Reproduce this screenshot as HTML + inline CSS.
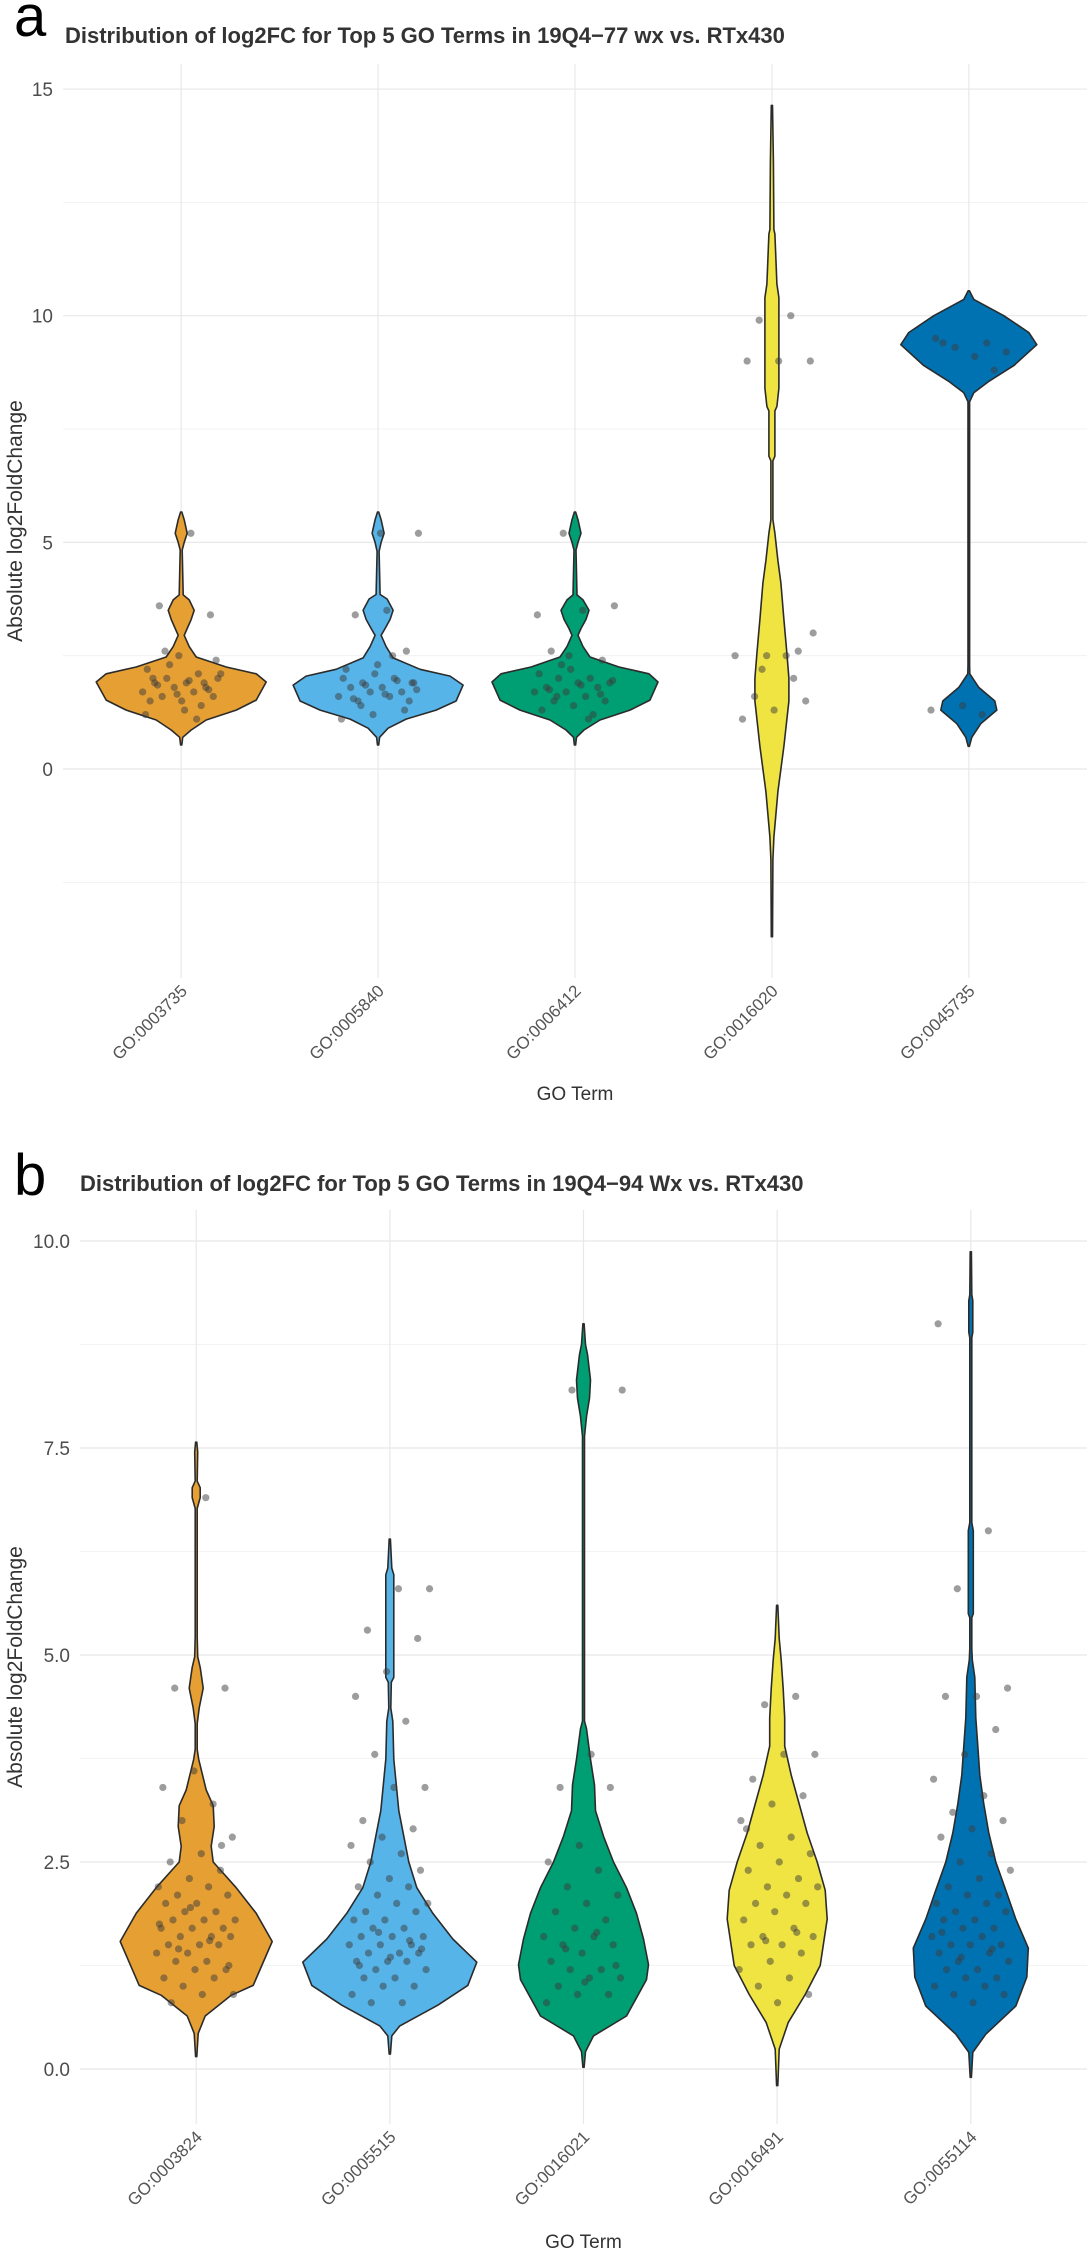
<!DOCTYPE html>
<html><head><meta charset="utf-8"><style>
html,body{margin:0;padding:0;background:#fff;}
svg{display:block;font-family:"Liberation Sans",Arial,sans-serif;}
</style></head><body>
<svg id="chart" width="1090" height="2253" viewBox="0 0 1090 2253" xmlns="http://www.w3.org/2000/svg">
<rect width="1090" height="2253" fill="#fff"/>
<text x="14" y="36" font-size="58" fill="#000">a</text>
<text x="65" y="43" font-size="22" font-weight="bold" fill="#333">Distribution of log2FC for Top 5 GO Terms in 19Q4−77 wx vs. RTx430</text>
<text x="14" y="1195" font-size="58" fill="#000">b</text>
<text x="80" y="1191" font-size="22" font-weight="bold" fill="#333">Distribution of log2FC for Top 5 GO Terms in 19Q4−94 Wx vs. RTx430</text>
<g id="pa"></g>
<g id="pb"></g>
</svg>
<script>
// ---------- Panel A data ----------
const aCategories = ["GO:0003735","GO:0005840","GO:0006412","GO:0016020","GO:0045735"];
const aTickValues = [0,5,10,15];
const aTickLabels = ["0","5","10","15"];
const aMinorTicks = [-2.5,2.5,7.5,12.5];
const aV1y = [0.53,0.7,0.86,1.08,1.3,1.52,1.92,2.1,2.25,2.47,2.7,2.95,3.1,3.3,3.5,3.73,3.84,4.83,5.0,5.2,5.5,5.67];
const aV1d = [0,1.5,10,25,55,75,85,75,45,15,8,3,6,10,13,8,2,1,3,6,3,0];
const aV2y = [0.53,0.7,0.9,1.1,1.3,1.5,1.85,2.05,2.2,2.45,2.7,2.95,3.1,3.3,3.5,3.75,3.85,4.8,5.0,5.2,5.5,5.67];
const aV2d = [0,1.5,10,28,58,78,85,72,42,15,8,3,7,12,15,9,2,1,3,6,3,0];
const aV3y = [0.53,0.7,0.86,1.08,1.3,1.52,1.92,2.1,2.25,2.47,2.7,2.95,3.1,3.3,3.5,3.73,3.84,4.83,5.0,5.2,5.5,5.67];
const aV3d = [0,1.5,9,25,55,75,83,74,44,15,8,3,6,11,14,8,2,1,3,6,3,0];
const aV4y = [-3.7,-2.0,-1.5,-0.5,0.5,1.5,2.0,2.55,3.3,4.1,4.6,5.2,5.5,6.8,6.9,7.9,8.0,8.4,10.4,10.7,11.8,11.9,13.4,14.64];
const aV4d = [0,1,2,6,12,17,17,15,12,9,6,3,1,1,3,3,5,7,7,5,3,2,1.5,0];
const aV5y = [0.5,0.7,1.0,1.3,1.5,1.8,2.1,2.3,8.1,8.3,8.55,8.9,9.36,9.63,10.0,10.36,10.55];
const aV5d = [0,3,12,28,26,10,1,0.8,0.8,5,20,45,68,60,35,5,0];
const aP1 = [5.2,3.6,3.4,2.5,2.2,2.1,2.0,2.0,1.9,1.9,1.8,1.8,1.7,1.7,1.6,1.6,1.5,1.5,1.4,2.3,2.1,1.95,1.85,1.75,1.65,1.2,1.1,2.6,2.4,1.3,2.0,1.9];
const aP2 = [5.2,3.5,3.4,2.6,2.1,2.0,2.0,1.9,1.9,1.8,1.8,1.7,1.7,1.6,1.6,1.5,1.5,2.3,2.2,1.95,1.85,1.75,1.65,1.55,1.3,1.2,1.1,2.5,1.4,1.9,5.2];
const aP3 = [5.2,3.6,3.5,2.6,2.4,2.2,2.1,2.0,2.0,1.9,1.9,1.8,1.8,1.7,1.7,1.6,1.5,1.5,1.4,1.3,1.2,2.3,1.95,1.85,1.75,1.65,2.5,3.4,1.1,1.6];
const aP4 = [10.0,9.9,9.0,9.0,9.0,2.6,2.5,2.5,2.5,1.6,1.5,1.3,1.1,2.0,2.2,3.0];
const aP5 = [9.5,9.4,9.3,9.2,9.1,9.4,8.8,1.4,1.3,1.2];

// ---------- Panel B data ----------
const bCategories = ["GO:0003824","GO:0005515","GO:0016021","GO:0016491","GO:0055114"];
const bTickValues = [0,2.5,5,7.5,10];
const bTickLabels = ["0.0","2.5","5.0","7.5","10.0"];
const bMinorTicks = [1.25,3.75,6.25,8.75];
const bV1y = [0.15,0.43,0.64,0.89,1.01,1.54,1.88,2.19,2.5,2.69,2.93,3.18,3.37,3.74,3.86,4.17,4.36,4.6,4.85,4.98,5.22,6.34,6.77,6.9,7.02,7.1,7.45,7.57];
const bV1d = [0,2,9,35,57,76,60,40,17,15,18,17,10,2.5,1,1,3,7,4,1.5,1,1,1,4,4,1,1.5,0];
const bV2y = [0.18,0.4,0.52,0.77,1.01,1.29,1.57,1.88,2.19,2.5,2.81,3.12,3.74,4.2,4.36,4.67,4.73,5.97,6.05,6.4];
const bV2d = [0,2,10,48,78,87,63,43,27,19,14,9,4,3,1,1.5,4,4,2,0];
const bV3y = [0.02,0.21,0.4,0.64,1.08,1.26,1.57,1.88,2.19,2.5,2.81,3.12,3.43,3.74,4.11,4.2,7.64,7.88,8.1,8.32,8.63,8.75,9.0];
const bV3d = [0,2,10,43,63,65,60,53,43,30,20,12,11,7,3,1,1,3,6,7,4,2,0];
const bV4y = [-0.2,0.24,0.56,0.9,1.25,1.81,2.16,2.5,2.85,3.2,3.55,3.9,4.24,4.59,4.94,5.2,5.6];
const bV4d = [0,2,11,28,43,50,48,40,30,22,14,7.5,7.5,6,4,2,0];
const bV5y = [-0.1,0.2,0.42,0.76,1.11,1.46,1.81,2.16,2.5,2.85,3.2,3.55,3.9,4.24,4.73,4.94,5.08,5.45,5.5,6.5,6.6,8.83,8.9,9.28,9.35,9.87];
const bV5d = [0,2,15,45,56,57.5,45,35,25,18,13,9,7,5,4,1.5,1,1,2.5,2.5,1,1,2,2,1,0];
const bP1 = [6.9,4.6,4.6,3.6,3.4,3.2,3.0,2.8,2.6,2.5,2.4,2.3,2.2,2.2,2.1,2.1,2.0,2.0,1.9,1.9,1.8,1.8,1.8,1.7,1.7,1.7,1.6,1.6,1.6,1.5,1.5,1.5,1.4,1.4,1.3,1.3,1.2,1.2,1.1,1.1,1.0,0.9,0.9,0.8,2.7,1.95,1.75,1.55,1.45,1.25];
const bP2 = [5.8,5.8,5.3,5.2,4.8,4.5,4.2,3.8,3.4,3.4,3.0,2.9,2.8,2.7,2.6,2.5,2.4,2.3,2.2,2.2,2.1,2.0,2.0,1.9,1.9,1.8,1.8,1.7,1.7,1.6,1.6,1.6,1.5,1.5,1.5,1.4,1.4,1.4,1.3,1.3,1.3,1.2,1.2,1.1,1.1,1.0,1.0,0.9,0.8,0.8,1.45,1.35,1.25,1.55,1.65];
const bP3 = [8.2,8.2,3.8,3.4,3.4,2.7,2.5,2.4,2.2,2.1,2.0,1.9,1.8,1.7,1.6,1.6,1.5,1.5,1.4,1.3,1.2,1.2,1.1,1.1,1.0,0.9,0.9,0.8,1.65,1.45,1.25,1.05];
const bP4 = [4.5,4.4,3.8,3.8,3.5,3.3,3.2,3.0,2.8,2.7,2.6,2.5,2.4,2.3,2.2,2.2,2.1,2.0,2.0,1.9,1.8,1.7,1.6,1.6,1.5,1.5,1.4,1.3,1.2,1.1,1.0,0.9,0.8,2.9,1.65,1.55];
const bP5 = [9.0,6.5,5.8,4.6,4.5,4.5,4.1,3.8,3.5,3.3,3.1,3.0,2.9,2.8,2.6,2.5,2.4,2.3,2.2,2.1,2.1,2.0,2.0,1.9,1.9,1.8,1.8,1.7,1.7,1.6,1.6,1.5,1.5,1.5,1.4,1.4,1.3,1.3,1.2,1.2,1.1,1.1,1.0,1.0,0.9,0.9,0.8,1.65,1.45,1.35];

const colors = ["#E69F33","#56B4E9","#009E73","#F0E442","#0072B2"];
const NS = "http://www.w3.org/2000/svg";
function mk(tag, attrs, parent){ const e=document.createElementNS(NS,tag); for(const k in attrs) e.setAttribute(k,attrs[k]); parent.appendChild(e); return e; }

function drawPanel(g, cfg){
  const yS = v => cfg.y0 - v*cfg.ppu;
  const band = (cfg.right-cfg.left)/5.2;
  const xS = i => cfg.left + (i+0.6)*band;
  cfg.minor.forEach(v=>{
    const l=mk('line',{x1:cfg.left,x2:cfg.right,y1:yS(v),y2:yS(v),stroke:'#efefef','stroke-width':0.8},g);
     
  });
  cfg.ticks.forEach((v,k)=>{
    const l=mk('line',{x1:cfg.left,x2:cfg.right,y1:yS(v),y2:yS(v),stroke:'#e8e8e8','stroke-width':1.2},g);
     
    const t=mk('text',{x:cfg.tickX,y:yS(v)+7,'text-anchor':'end','font-size':19,fill:'#4d4d4d'},g);
    t.textContent=cfg.tickLabels[k];
     
  });
  cfg.cats.forEach((c,i)=>{
    const l=mk('line',{x1:xS(i),x2:xS(i),y1:cfg.top,y2:cfg.bottom,stroke:'#e8e8e8','stroke-width':1.2},g);
     
    const tx=xS(i)+7, ty=cfg.bottom+14;
    const t=mk('text',{x:tx,y:ty,'text-anchor':'end','font-size':17,fill:'#555',transform:`rotate(-45 ${tx} ${ty})`},g);
    t.textContent=c;
     
  });
  cfg.violins.forEach((vv,i)=>{
    const ys=vv[0], ds=vv[1], cx=xS(i);
    let pts=[];
    for(let k=0;k<ys.length;k++) pts.push([cx+Math.max(ds[k],0.6)*cfg.wScale, yS(ys[k])]);
    for(let k=ys.length-1;k>=0;k--) pts.push([cx-Math.max(ds[k],0.6)*cfg.wScale, yS(ys[k])]);
    const p=mk('path',{d:'M'+pts.map(q=>q[0].toFixed(1)+','+q[1].toFixed(1)).join('L')+'Z',fill:colors[i],stroke:'#2b2b2b','stroke-width':1.6,'stroke-linejoin':'round'},g);
    
    
  });
  cfg.points.forEach((arr,i)=>{
    arr.forEach((v,k)=>{
      const off=(((k+1)*0.618034+i*0.37)%1-0.5)*0.42*band;
      const c=mk('circle',{cx:xS(i)+off,cy:yS(v),r:3.6,fill:'rgba(60,60,60,0.5)'},g);
      
      
    });
  });
  const yt=mk('text',{x:0,y:0,'text-anchor':'middle','font-size':21,fill:'#333',transform:`translate(22 ${(cfg.top+cfg.bottom)/2}) rotate(-90)`},g);
  yt.textContent='Absolute log2FoldChange';
   
  const xt=mk('text',{x:(cfg.left+cfg.right)/2,y:cfg.xTitleY,'text-anchor':'middle','font-size':19,fill:'#333'},g);
  xt.textContent='GO Term';
   
}

drawPanel(document.getElementById('pa'),{
  left:63,right:1087,top:64,bottom:978,y0:769,ppu:45.33,tickX:53,wScale:1.0,xTitleY:1100,
  cats:aCategories,ticks:aTickValues,tickLabels:aTickLabels,minor:aMinorTicks,
  violins:[[aV1y,aV1d],[aV2y,aV2d],[aV3y,aV3d],[aV4y,aV4d],[aV5y,aV5d]],
  points:[aP1,aP2,aP3,aP4,aP5]
});
drawPanel(document.getElementById('pb'),{
  left:80,right:1087,top:1210,bottom:2124,y0:2069,ppu:82.8,tickX:70,wScale:1.0,xTitleY:2248,
  cats:bCategories,ticks:bTickValues,tickLabels:bTickLabels,minor:bMinorTicks,
  violins:[[bV1y,bV1d],[bV2y,bV2d],[bV3y,bV3d],[bV4y,bV4d],[bV5y,bV5d]],
  points:[bP1,bP2,bP3,bP4,bP5]
});
</script>
</body></html>
